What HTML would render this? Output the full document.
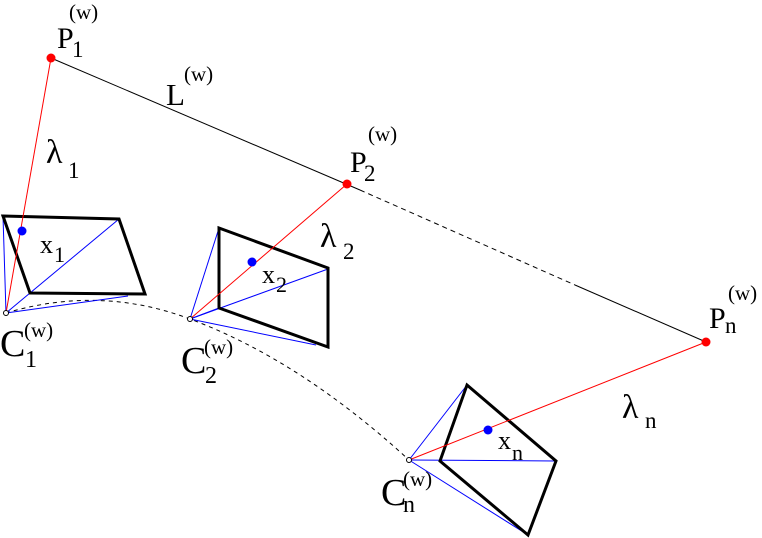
<!DOCTYPE html>
<html><head><style>
html,body{margin:0;padding:0;background:#fff;}
svg{display:block;}
text{font-family:"Liberation Serif",serif;fill:#000;}
</style></head><body>
<svg width="762" height="538" viewBox="0 0 762 538" xmlns="http://www.w3.org/2000/svg">
<line x1="51" y1="58" x2="360" y2="190" stroke="#000" stroke-width="1"/>
<line x1="360" y1="190" x2="575" y2="285" stroke="#000" stroke-width="1" stroke-dasharray="5,4"/>
<line x1="575" y1="285" x2="706" y2="342" stroke="#000" stroke-width="1"/>
<path d="M6,313 Q100,285 190,319 Q300,360 409,460" fill="none" stroke="#000" stroke-width="1" stroke-dasharray="4,4"/>
<g stroke="#00f" stroke-width="1" fill="none">
<line x1="6" y1="313" x2="3" y2="216"/>
<line x1="6" y1="313" x2="30" y2="293"/>
<line x1="6" y1="313" x2="128" y2="296"/>
<line x1="30" y1="293" x2="119" y2="219"/>
</g>
<polygon points="3,216 119,219 145,294 30,293" fill="none" stroke="#000" stroke-width="3"/>
<line x1="6" y1="313" x2="51" y2="58" stroke="#f00" stroke-width="1"/>
<g stroke="#00f" stroke-width="1" fill="none">
<line x1="190" y1="319" x2="219" y2="228"/>
<line x1="190" y1="319" x2="328" y2="269"/>
<line x1="190" y1="319" x2="316" y2="345"/>
<line x1="190" y1="319" x2="219" y2="308"/>
</g>
<polygon points="219,228 328,268 328,347 219,308" fill="none" stroke="#000" stroke-width="3"/>
<line x1="190" y1="319" x2="347" y2="184" stroke="#f00" stroke-width="1"/>
<g stroke="#00f" stroke-width="1" fill="none">
<line x1="409" y1="460" x2="467" y2="385"/>
<line x1="409" y1="460" x2="556" y2="461"/>
<line x1="409" y1="460" x2="528" y2="535"/>
</g>
<polygon points="467,385 556,461 528,535 440,461" fill="none" stroke="#000" stroke-width="3"/>
<line x1="409" y1="460" x2="706" y2="342" stroke="#f00" stroke-width="1"/>
<circle cx="6" cy="313" r="2.5" fill="#fff" stroke="#000" stroke-width="1"/>
<circle cx="190" cy="319" r="2.5" fill="#fff" stroke="#000" stroke-width="1"/>
<circle cx="409" cy="460" r="2.5" fill="#fff" stroke="#000" stroke-width="1"/>
<circle cx="51" cy="58" r="4.5" fill="#f00"/>
<circle cx="347" cy="184" r="4.5" fill="#f00"/>
<circle cx="706" cy="342" r="4.5" fill="#f00"/>
<circle cx="22" cy="231" r="4.5" fill="#00f"/>
<circle cx="252" cy="262" r="4.5" fill="#00f"/>
<circle cx="488" cy="430" r="4.5" fill="#00f"/>
<text x="57" y="48" font-size="30">P</text><text x="72" y="57" font-size="23">1</text><text x="69" y="19" font-size="21">(w)</text>
<text x="166" y="105" font-size="31">L</text><text x="184" y="81" font-size="21">(w)</text>
<text x="350" y="172" font-size="30">P</text><text x="364" y="181" font-size="23">2</text><text x="368" y="141" font-size="21">(w)</text>
<text x="709" y="328" font-size="30">P</text><text x="725" y="333" font-size="23">n</text><text x="728" y="300" font-size="21">(w)</text>
<text x="46" y="163" font-size="34">λ</text><text x="68" y="178" font-size="23">1</text>
<text x="320" y="247" font-size="34">λ</text><text x="343" y="259" font-size="23">2</text>
<text x="622" y="418" font-size="34">λ</text><text x="645" y="428" font-size="23">n</text>
<text x="40" y="253" font-size="26">x</text><text x="54" y="262" font-size="22">1</text>
<text x="262" y="283" font-size="26">x</text><text x="276" y="292" font-size="22">2</text>
<text x="498" y="449" font-size="26">x</text><text x="512" y="460" font-size="22">n</text>
<text x="0" y="356" font-size="38">C</text><text x="25" y="367" font-size="24">1</text><text x="24" y="337" font-size="21">(w)</text>
<text x="181" y="373" font-size="38">C</text><text x="205" y="383" font-size="24">2</text><text x="204" y="354" font-size="21">(w)</text>
<text x="381" y="505" font-size="38">C</text><text x="403" y="512" font-size="24">n</text><text x="403" y="486" font-size="21">(w)</text>
</svg>
</body></html>
